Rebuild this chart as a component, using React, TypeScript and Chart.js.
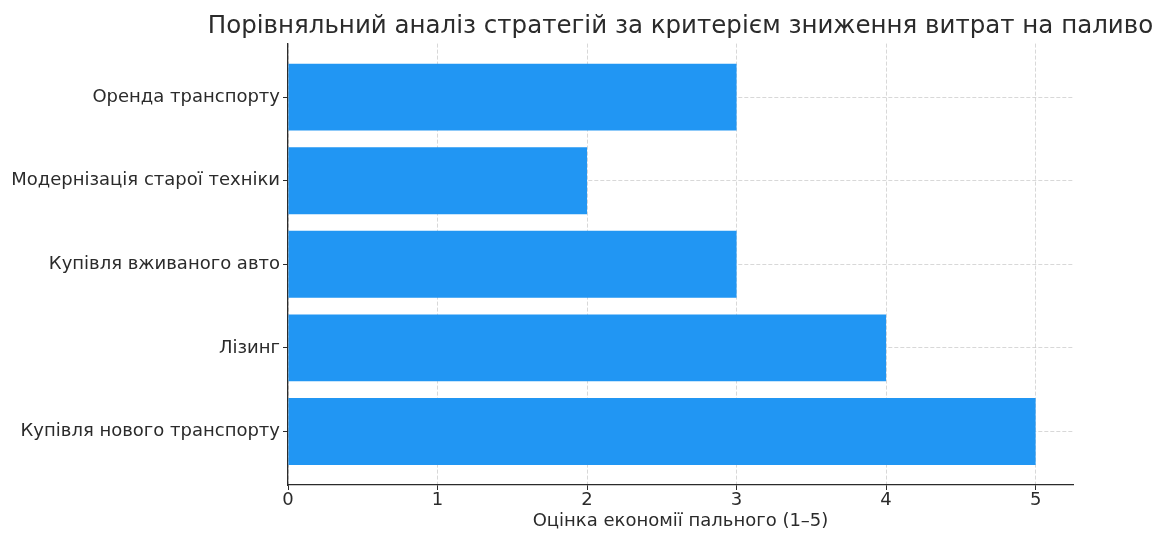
import React, { useEffect, useRef } from "react";
import { Chart, registerables } from "chart.js";

Chart.register(...registerables);

const TITLE = "Порівняльний аналіз стратегій за критерієм зниження витрат на паливо";
const X_TITLE = "Оцінка економії пального (1–5)";
const CATEGORIES = [
  "Купівля нового транспорту",
  "Лізинг",
  "Купівля вживаного авто",
  "Модернізація старої техніки",
  "Оренда транспорту",
];
const SCORES = [5, 4, 3, 2, 3];
const X_TICKS = [0, 1, 2, 3, 4, 5];

const FONT = "'DejaVu Sans', sans-serif";
const TEXT = "#2b2b2b";
const GRID = "rgba(190,190,190,0.6)";

const titlePlugin = {
  id: "centeredTitle",
  afterDraw(chart: any) {
    const { ctx, chartArea } = chart;
    ctx.save();
    ctx.font = `24.5px ${FONT}`;
    ctx.fillStyle = TEXT;
    ctx.textAlign = "center";
    ctx.textBaseline = "middle";
    ctx.fillText(TITLE, (chartArea.left + chartArea.right) / 2, 27);
    ctx.restore();
  },
};

export default function App() {
  const ref = useRef<HTMLCanvasElement | null>(null);
  useEffect(() => {
    document.body.style.margin = "0";
    document.body.style.overflow = "hidden";
    const chart = new Chart(ref.current as HTMLCanvasElement, {
      type: "bar",
      data: {
        datasets: [
          {
            data: SCORES.map((v, i) => ({ x: v, y: i })),
            backgroundColor: "#2196F3",
            borderWidth: 0,
            barPercentage: 0.8,
            categoryPercentage: 1,
          },
        ],
      },
      plugins: [titlePlugin],
      options: {
        indexAxis: "y",
        animation: false,
        responsive: false,
        maintainAspectRatio: false,
        layout: { padding: { top: 43.6, right: 95, left: 0, bottom: 0 } },
        plugins: { legend: { display: false }, tooltip: { enabled: false } },
        scales: {
          x: {
            type: "linear",
            min: 0,
            max: 5.25,
            z: 1,
            afterBuildTicks: (s: any) => {
              s.ticks = X_TICKS.map((v) => ({ value: v }));
            },
            afterFit: (s: any) => {
              s.height = 49;
            },
            grid: {
              color: GRID,
              lineWidth: 1,
              tickColor: TEXT,
              tickLength: 5,
              drawTicks: true,
            },
            border: { display: true, color: TEXT, width: 1.3, dash: [4, 2] },
            ticks: {
              color: TEXT,
              font: { family: FONT, size: 18 },
              padding: 0,
              maxRotation: 0,
              callback: (v: any) => String(v),
            },
            title: {
              display: true,
              text: X_TITLE,
              color: TEXT,
              font: { family: FONT, size: 18 },
              padding: { top: 0, bottom: 2 },
            },
          },
          y: {
            type: "linear",
            min: -0.64,
            max: 4.64,
            offset: false,
            z: 1,
            afterBuildTicks: (s: any) => {
              s.ticks = CATEGORIES.map((_, i) => ({ value: i }));
            },
            afterFit: (s: any) => {
              s.width = 288;
            },
            grid: {
              offset: false,
              color: GRID,
              lineWidth: 1,
              tickColor: TEXT,
              tickLength: 5,
              drawTicks: true,
            },
            border: { display: true, color: TEXT, width: 1.3, dash: [4, 2] },
            ticks: {
              color: TEXT,
              font: { family: FONT, size: 18 },
              padding: 3,
              callback: (v: any) => CATEGORIES[v] ?? "",
            },
          },
        },
      },
    } as any);
    return () => chart.destroy();
  }, []);
  return (
    <div style={{ width: 1168, height: 534 }}>
      <canvas ref={ref} width={1168} height={534} style={{ display: "block" }} />
    </div>
  );
}
